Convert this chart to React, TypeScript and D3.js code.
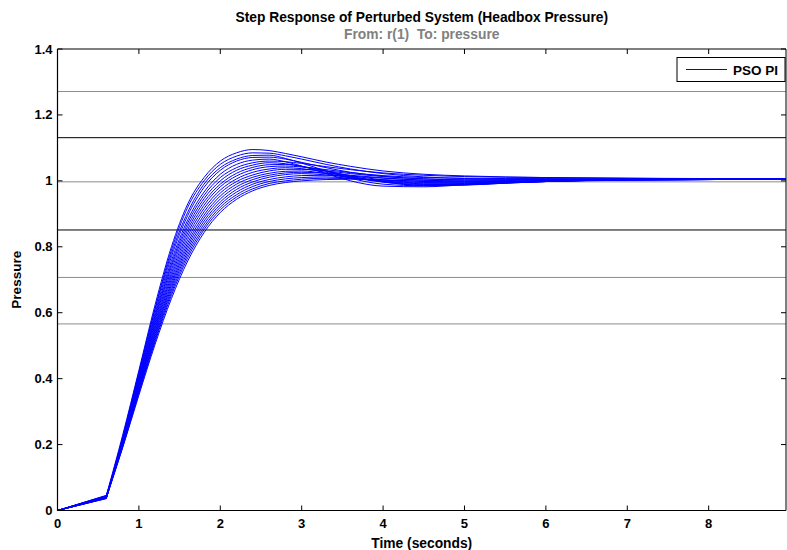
import React from "react";
import * as d3 from "d3";

const W = 787;
const H = 550;

const TITLE = "Step Response of Perturbed System (Headbox Pressure)";
const SUBTITLE = "From: r(1)  To: pressure";
const X_LABEL = "Time (seconds)";
const Y_LABEL = "Pressure";
const LEGEND_LABEL = "PSO PI";

const xTicks = [0, 1, 2, 3, 4, 5, 6, 7, 8];
const yTicks = [0, 0.2, 0.4, 0.6, 0.8, 1, 1.2, 1.4];
const yTickLabels = ["0", "0.2", "0.4", "0.6", "0.8", "1", "1.2", "1.4"];

// reference horizontal lines
const grayLines = [1.271, 0.997, 0.707, 0.566];
const blackLines = [1.131, 0.851];

const times = [0, 0.6, 0.8, 1.0, 1.2, 1.4, 1.6, 1.8, 2.0, 2.2, 2.4, 2.6, 2.8, 3.0, 3.3, 3.6, 4.0, 4.5, 5.0, 5.5, 6.0, 7.0, 8.0, 9.0];

const c1 = [0, 0.046, 0.228, 0.425, 0.625, 0.800, 0.930, 1.010, 1.060, 1.085, 1.095, 1.092, 1.083, 1.073, 1.057, 1.044, 1.030, 1.020, 1.015, 1.012, 1.010, 1.008, 1.006, 1.005];
const c2 = [0, 0.040, 0.222, 0.420, 0.615, 0.790, 0.920, 1.000, 1.050, 1.075, 1.085, 1.084, 1.076, 1.066, 1.050, 1.036, 1.022, 1.012, 1.007, 1.005, 1.005, 1.005, 1.005, 1.005];
const c3 = [0, 0.043, 0.220, 0.415, 0.610, 0.780, 0.905, 0.990, 1.040, 1.066, 1.077, 1.078, 1.068, 1.054, 1.030, 1.008, 0.990, 0.985, 0.990, 0.996, 1.000, 1.004, 1.005, 1.005];
const c4 = [0, 0.037, 0.218, 0.410, 0.600, 0.770, 0.895, 0.980, 1.032, 1.060, 1.071, 1.072, 1.066, 1.056, 1.040, 1.026, 1.014, 1.006, 1.003, 1.003, 1.004, 1.005, 1.005, 1.005];
const c5 = [0, 0.044, 0.216, 0.405, 0.592, 0.758, 0.882, 0.966, 1.020, 1.050, 1.063, 1.066, 1.058, 1.045, 1.022, 1.000, 0.984, 0.982, 0.988, 0.994, 0.999, 1.003, 1.004, 1.005];
const c6 = [0, 0.039, 0.214, 0.400, 0.585, 0.748, 0.872, 0.956, 1.010, 1.040, 1.055, 1.060, 1.058, 1.053, 1.043, 1.034, 1.024, 1.017, 1.013, 1.011, 1.010, 1.008, 1.007, 1.006];
const c7 = [0, 0.041, 0.212, 0.396, 0.578, 0.740, 0.862, 0.946, 1.000, 1.032, 1.048, 1.055, 1.052, 1.044, 1.030, 1.016, 1.003, 0.995, 0.994, 0.997, 1.000, 1.004, 1.005, 1.005];
const c8 = [0, 0.036, 0.210, 0.392, 0.570, 0.730, 0.852, 0.936, 0.990, 1.023, 1.041, 1.049, 1.050, 1.044, 1.030, 1.014, 0.997, 0.986, 0.987, 0.993, 0.998, 1.003, 1.005, 1.005];
const c9 = [0, 0.045, 0.208, 0.388, 0.563, 0.720, 0.842, 0.926, 0.982, 1.015, 1.034, 1.043, 1.045, 1.042, 1.034, 1.025, 1.016, 1.010, 1.008, 1.007, 1.007, 1.006, 1.006, 1.006];
const c10 = [0, 0.038, 0.206, 0.384, 0.556, 0.711, 0.832, 0.916, 0.972, 1.006, 1.026, 1.036, 1.040, 1.037, 1.026, 1.012, 0.998, 0.989, 0.989, 0.994, 0.998, 1.003, 1.004, 1.005];
const c11 = [0, 0.042, 0.204, 0.380, 0.550, 0.702, 0.822, 0.906, 0.963, 0.998, 1.018, 1.030, 1.035, 1.035, 1.030, 1.022, 1.013, 1.006, 1.003, 1.003, 1.004, 1.005, 1.005, 1.005];
const c12 = [0, 0.039, 0.202, 0.376, 0.543, 0.693, 0.812, 0.896, 0.954, 0.990, 1.011, 1.023, 1.029, 1.030, 1.022, 1.010, 0.996, 0.987, 0.988, 0.993, 0.998, 1.003, 1.004, 1.005];
const c13 = [0, 0.043, 0.200, 0.372, 0.537, 0.685, 0.803, 0.887, 0.945, 0.982, 1.004, 1.017, 1.024, 1.026, 1.023, 1.017, 1.009, 1.002, 1.000, 1.001, 1.003, 1.005, 1.005, 1.005];
const c14 = [0, 0.037, 0.198, 0.368, 0.531, 0.677, 0.794, 0.878, 0.936, 0.974, 0.997, 1.011, 1.019, 1.022, 1.018, 1.010, 0.999, 0.991, 0.990, 0.994, 0.998, 1.003, 1.004, 1.005];
const c15 = [0, 0.041, 0.196, 0.364, 0.525, 0.669, 0.785, 0.869, 0.928, 0.966, 0.990, 1.004, 1.012, 1.016, 1.017, 1.014, 1.008, 1.002, 0.999, 0.999, 1.001, 1.004, 1.005, 1.005];
const c16 = [0, 0.040, 0.194, 0.360, 0.519, 0.661, 0.776, 0.860, 0.920, 0.958, 0.983, 0.998, 1.006, 1.010, 1.012, 1.008, 1.000, 0.993, 0.992, 0.995, 0.998, 1.002, 1.004, 1.005];
const c17 = [0, 0.044, 0.192, 0.356, 0.513, 0.653, 0.767, 0.852, 0.912, 0.951, 0.976, 0.992, 1.000, 1.005, 1.008, 1.007, 1.003, 0.998, 0.996, 0.997, 1.000, 1.003, 1.004, 1.005];
const c18 = [0, 0.038, 0.190, 0.350, 0.505, 0.643, 0.757, 0.843, 0.904, 0.944, 0.970, 0.986, 0.995, 1.000, 1.004, 1.005, 1.003, 0.999, 0.997, 0.998, 1.000, 1.003, 1.004, 1.005];

const responses = [c1, c2, c3, c4, c5, c6, c7, c8, c9, c10, c11, c12, c13, c14, c15, c16, c17, c18];

const FONT = "Arial, 'Liberation Sans', Helvetica, sans-serif";

export default function App() {
  const left = 57.5;
  const right = 786;
  const top = 49;
  const bottom = 510.5;

  const x = d3.scaleLinear().domain([0, 8.95]).range([left, right]);
  const y = d3.scaleLinear().domain([0, 1.4]).range([bottom, top]);

  const smooth = d3
    .line<[number, number]>()
    .x((d) => x(d[0]))
    .y((d) => y(d[1]))
    .curve(d3.curveMonotoneX);

  const paths = responses.map((vals) => {
    const pts: [number, number][] = times.map((t, i) => [t, vals[i]]);
    const rest = smooth(pts.slice(1)) || "";
    return `M${x(pts[0][0])},${y(pts[0][1])}L${rest.substring(1)}`;
  });

  const tickLen = 5;

  return (
    <svg
      width={W}
      height={H}
      style={{ position: "absolute", left: 0, top: 0, background: "#fff" }}
      fontFamily={FONT}
    >
      <rect x={0} y={0} width={W} height={H} fill="#fff" />
      <defs>
        <clipPath id="plotclip">
          <rect x={left} y={top} width={right - left} height={bottom - top} />
        </clipPath>
      </defs>

      {/* reference lines */}
      {grayLines.map((v, i) => (
        <line key={"g" + i} x1={left} x2={right} y1={y(v)} y2={y(v)} stroke="#8c8c8c" strokeWidth={1} />
      ))}
      {blackLines.map((v, i) => (
        <line key={"b" + i} x1={left} x2={right} y1={y(v)} y2={y(v)} stroke="#000" strokeWidth={1} />
      ))}

      {/* curves */}
      <g clipPath="url(#plotclip)">
        {paths.map((p, i) => (
          <path key={i} d={p} fill="none" stroke="#0000ff" strokeWidth={1} />
        ))}
      </g>

      {/* axes box */}
      <line x1={left} x2={right} y1={top} y2={top} stroke="#000" strokeWidth={1} />
      <line x1={left} x2={right} y1={bottom} y2={bottom} stroke="#000" strokeWidth={1.2} />
      <line x1={left} x2={left} y1={top} y2={bottom} stroke="#000" strokeWidth={1.2} />
      <line x1={right} x2={right} y1={top} y2={bottom} stroke="#000" strokeWidth={1} />

      {/* x ticks */}
      {xTicks.map((t) => (
        <g key={"xt" + t}>
          <line x1={x(t)} x2={x(t)} y1={bottom} y2={bottom - tickLen} stroke="#000" />
          <line x1={x(t)} x2={x(t)} y1={top} y2={top + tickLen} stroke="#000" />
          <text x={x(t)} y={bottom + 17} textAnchor="middle" fontSize={13} fontWeight="bold" fill="#000">
            {t}
          </text>
        </g>
      ))}

      {/* y ticks */}
      {yTicks.map((t, i) => (
        <g key={"yt" + t}>
          <line x1={left} x2={left + tickLen} y1={y(t)} y2={y(t)} stroke="#000" />
          <line x1={right} x2={right - tickLen} y1={y(t)} y2={y(t)} stroke="#000" />
          <text x={left - 5} y={y(t) + 4.5} textAnchor="end" fontSize={13} fontWeight="bold" fill="#000">
            {yTickLabels[i]}
          </text>
        </g>
      ))}

      {/* titles */}
      <text x={(left + right) / 2} y={22} textAnchor="middle" fontSize={13.8} fontWeight="bold" fill="#000">
        {TITLE}
      </text>
      <text
        x={(left + right) / 2}
        y={39}
        textAnchor="middle"
        fontSize={13.8}
        fontWeight="bold"
        fill="#808080"
        style={{ whiteSpace: "pre" }}
      >
        {SUBTITLE}
      </text>
      <text x={(left + right) / 2} y={548} textAnchor="middle" fontSize={13.8} fontWeight="bold" fill="#000">
        {X_LABEL}
      </text>
      <text
        transform={`translate(21,${(top + bottom) / 2}) rotate(-90)`}
        textAnchor="middle"
        fontSize={13.5}
        fontWeight="bold"
        fill="#000"
      >
        {Y_LABEL}
      </text>

      {/* legend */}
      <rect x={677} y={57.5} width={108} height={24} fill="#fff" stroke="#000" strokeWidth={1} />
      <line x1={686} x2={727} y1={69.5} y2={69.5} stroke="#0000ff" strokeWidth={1} />
      <text x={733} y={74.5} fontSize={13.5} fontWeight="bold" fill="#000">
        {LEGEND_LABEL}
      </text>
    </svg>
  );
}
